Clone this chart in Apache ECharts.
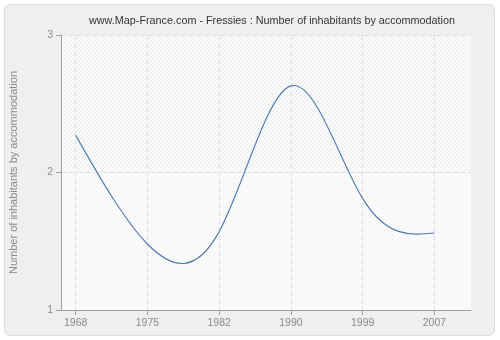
<!DOCTYPE html>
<html>
<head>
<meta charset="utf-8">
<script src="https://cdn.jsdelivr.net/npm/echarts@6/dist/echarts.min.js"></script>
<style>
  html, body { margin: 0; padding: 0; background: #ffffff; }
  #frame {
    position: absolute; left: 4px; top: 4px; width: 489px; height: 330px;
    background: #efefef; border: 1px solid #dcdcdc; border-radius: 6px;
  }
  #chart { position: absolute; left: 0; top: 0; width: 500px; height: 340px; }
</style>
</head>
<body>
<div id="frame"></div>
<div id="chart"></div>
<script>
// Census years and average number of inhabitants per dwelling
const years = ['1968', '1975', '1982', '1990', '1999', '2007'];
const inhabitantsPerDwelling = [2.27, 1.48, 1.57, 2.63, 1.81, 1.56];
const yTicks = [1, 2, 3];

// Diagonal hatch used as the plot background
function hatchPattern(bg, fg) {
  const c = document.createElement('canvas');
  c.width = 4; c.height = 4;
  const g = c.getContext('2d');
  g.fillStyle = bg;
  g.fillRect(0, 0, 4, 4);
  g.fillStyle = fg;
  for (let i = 0; i < 4; i++) g.fillRect(i, 3 - i, 1, 1);
  return c;
}

// Second derivatives of a natural cubic spline over evenly spaced points
function splineMoments(y) {
  const n = y.length;
  const M = new Array(n).fill(0);
  if (n < 3) return M;
  const c = [], d = [];
  for (let i = 1; i < n - 1; i++) {
    const rhs = 6 * (y[i + 1] - 2 * y[i] + y[i - 1]);
    const k = i - 1;
    if (k === 0) { c[k] = 1 / 4; d[k] = rhs / 4; }
    else {
      const den = 4 - c[k - 1];
      c[k] = 1 / den;
      d[k] = (rhs - d[k - 1]) / den;
    }
  }
  const m = n - 2;
  const inner = new Array(m);
  inner[m - 1] = d[m - 1];
  for (let k = m - 2; k >= 0; k--) inner[k] = d[k] - c[k] * inner[k + 1];
  for (let k = 0; k < m; k++) M[k + 1] = inner[k];
  return M;
}
const moments = splineMoments(inhabitantsPerDwelling);

const chart = echarts.init(document.getElementById('chart'), null, { renderer: 'canvas' });
const indices = years.map((_, i) => i);
const axisGray = '#a0a0a0';
const labelGray = '#8a8a8a';
const font = 'Liberation Sans';

chart.setOption({
  animation: false,
  backgroundColor: 'transparent',
  title: {
    text: 'www.Map-France.com - Fressies : Number of inhabitants by accommodation',
    left: 267, top: 11, textAlign: 'center',
    textStyle: { fontFamily: font, fontSize: 10.8, fontWeight: 'normal', color: '#333333' }
  },
  grid: {
    left: 61, right: 29, top: 35, bottom: 30,
    show: true, borderWidth: 0,
    backgroundColor: { image: hatchPattern('#fbfbfb', '#eaeaea'), repeat: 'repeat' }
  },
  xAxis: {
    type: 'value',
    z: 2,
    min: -0.205, max: 5.51,
    axisLine: { show: true, onZero: false, lineStyle: { color: axisGray } },
    axisTick: { show: true, length: 5, customValues: indices, lineStyle: { color: axisGray } },
    axisLabel: {
      customValues: indices,
      formatter: v => years[Math.round(v)],
      color: labelGray, fontFamily: font, fontSize: 10.5, margin: 8
    },
    splitLine: { show: true, lineStyle: { color: '#e0e0e0', type: [5, 3] } }
  },
  yAxis: {
    type: 'value',
    z: 2,
    min: yTicks[0], max: yTicks[yTicks.length - 1], interval: 1,
    name: 'Number of inhabitants by accommodation',
    nameLocation: 'middle', nameGap: 42, nameRotate: 90,
    nameTextStyle: { color: labelGray, fontFamily: font, fontSize: 11 },
    axisLine: { show: true, onZero: false, lineStyle: { color: axisGray } },
    axisTick: { show: true, length: 5, lineStyle: { color: axisGray } },
    axisLabel: { color: labelGray, fontFamily: font, fontSize: 10.5, margin: 8 },
    splitLine: { show: true, lineStyle: { color: '#e0e0e0', type: [5, 3] } }
  },
  series: [{
    // lighter hatch on the lower half of the plot
    type: 'line',
    data: [],
    silent: true,
    markArea: {
      silent: true,
      itemStyle: { color: { image: hatchPattern('#fcfcfc', '#f2f2f2'), repeat: 'repeat' } },
      data: [[{ yAxis: 1 }, { yAxis: 2 }]]
    },
    z: 1
  }, {
    // smooth curve through the census values (natural cubic spline, drawn as bezier pieces)
    type: 'custom',
    data: inhabitantsPerDwelling.map((v, i) => [i, v]),
    encode: { x: 0, y: 1 },
    clip: true,
    z: 3,
    renderItem: function (params, api) {
      const i = params.dataIndex;
      const y = inhabitantsPerDwelling;
      if (i >= y.length - 1) return null;
      const dy = y[i + 1] - y[i];
      const s0 = dy - (2 * moments[i] + moments[i + 1]) / 6;
      const s1 = dy + (moments[i] + 2 * moments[i + 1]) / 6;
      const p0 = api.coord([i, y[i]]);
      const p1 = api.coord([i + 1, y[i + 1]]);
      const c0 = api.coord([i + 1 / 3, y[i] + s0 / 3]);
      const c1 = api.coord([i + 2 / 3, y[i + 1] - s1 / 3]);
      return {
        type: 'bezierCurve',
        shape: {
          x1: p0[0], y1: p0[1], x2: p1[0], y2: p1[1],
          cpx1: c0[0], cpy1: c0[1], cpx2: c1[0], cpy2: c1[1]
        },
        style: { stroke: '#4a78b0', lineWidth: 1.1, fill: null }
      };
    }
  }]
});
</script>
</body>
</html>
